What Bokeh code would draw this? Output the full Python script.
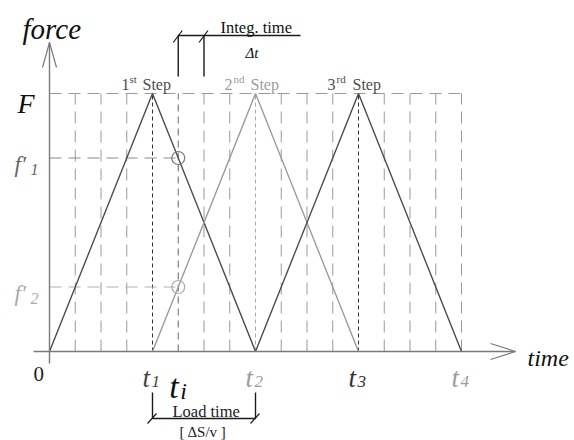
from bokeh.plotting import figure
from bokeh.models import Range1d
from bokeh.core.properties import value
from bokeh.embed import file_html
from bokeh.resources import INLINE

# ---------------- data ----------------
step_names = ["1", "2", "3"]
step_sups = ["st", "nd", "rd"]
step_start = [0, 4, 8]
step_peak = [4, 8, 12]
step_end = [8, 12, 16]
F = 1.0
t_i = 5
dt = 1
f1 = 0.75   # f'1 : 1st step at t_i
f2 = 0.25   # f'2 : 2nd step at t_i
grid_t = list(range(1, 17))
t_pos = [4, 8, 12, 16]
t_subs = ["1", "2", "3", "4"]

# ---------------- layout (pixel mapping) ----------------
PX0, PY0, SX, SY = 49.0, 351.0, 25.75, 258.0
def X(px): return (px - PX0) / SX
def Y(py): return (PY0 - py) / SY
def DX(px): return px / SX
def DY(px): return px / SY

SERIF = value("Liberation Serif")
step_colors = ["#4d4d4d", "#9c9c9c", "#4d4d4d"]
t_colors = ["#444444", "#9c9c9c", "#333333", "#9c9c9c"]

p = figure(width=574, height=440, x_range=Range1d(X(0), X(574)),
           y_range=Range1d(Y(440), Y(0)), output_backend="svg",
           toolbar_location=None, min_border=0,
           x_axis_type=None, y_axis_type=None)
p.outline_line_color = None
p.background_fill_color = "white"
p.border_fill_color = "white"

def txt(x, y, s, size, color="#111111", style="normal", xo=0, yo=0,
        align="left", baseline="alphabetic"):
    p.text(x=[x], y=[y], text=[s], text_font=SERIF,
           text_font_size=f"{size}px", text_color=color,
           text_font_style=style, x_offset=xo, y_offset=yo,
           text_align=align, text_baseline=baseline)

# ---------------- grid ----------------
special = {4: ("#333333", "4 3"), 12: ("#333333", "4 3"),
           8: ("#aaaaaa", "4 3"), t_i: ("#666666", "7 5")}
for t in grid_t:
    col, dash = special.get(t, ("#9a9a9a", "12 7"))
    p.segment(x0=[t], y0=[0], x1=[t], y1=[F], line_color=col,
              line_dash=dash, line_width=1)
p.segment(x0=[0], y0=[F], x1=[grid_t[-1]], y1=[F], line_color="#9a9a9a",
          line_dash="12 7", line_width=1)
p.segment(x0=[0], y0=[f1], x1=[t_i], y1=[f1], line_color="#8a8a8a",
          line_dash="12 7", line_width=1)
p.segment(x0=[0], y0=[f2], x1=[t_i], y1=[f2], line_color="#b0b0b0",
          line_dash="12 7", line_width=1)

# ---------------- triangles ----------------
for s0, pk, s1, c in zip(step_start, step_peak, step_end, step_colors):
    p.line(x=[s0, pk, s1], y=[0, F, 0], line_color=c, line_width=1.4)

p.scatter(x=[t_i, t_i], y=[f1, f2], marker="circle", size=13,
          fill_color=None, line_color=["#777777", "#aaaaaa"], line_width=1.2)

# ---------------- axes ----------------
ax_col = "#7a7a7a"
x_end = X(515)
y_end = Y(42)
p.segment(x0=[X(33)], y0=[0], x1=[x_end], y1=[0], line_color=ax_col, line_width=1.4)
p.segment(x0=[0], y0=[Y(363)], x1=[0], y1=[y_end], line_color=ax_col, line_width=1.4)
p.line(x=[x_end - DX(25), x_end, x_end - DX(25)], y=[DY(8), 0, -DY(8)],
       line_color=ax_col, line_width=1.2)
p.line(x=[-DX(7), 0, DX(7)], y=[y_end - DY(25), y_end, y_end - DY(25)],
       line_color=ax_col, line_width=1.2)

# ---------------- axis labels ----------------
txt(0, y_end, "force", 29, "#111111", "italic", xo=-27, yo=-14)
txt(x_end, 0, "time", 24, "#111111", "italic", xo=12, yo=6)
txt(0, 0, "0", 21, "#222222", xo=-16, yo=22)
txt(0, F, "F", 28, "#111111", "italic", xo=-32, yo=10)
txt(0, f1, "f\u2032", 23, "#666666", "italic", xo=-35, yo=6)
txt(0, f1, "1", 16, "#666666", "italic", xo=-19, yo=11)
txt(0, f2, "f\u2032", 23, "#aaaaaa", "italic", xo=-35, yo=6)
txt(0, f2, "2", 16, "#aaaaaa", "italic", xo=-19, yo=11)

for tp, sub, c in zip(t_pos, t_subs, t_colors):
    txt(tp, 0, "t", 27, c, "italic", xo=-10, yo=26)
    txt(tp, 0, sub, 17, c, "italic", xo=-1, yo=30)
txt(t_i, 0, "t", 34, "#111111", "italic", xo=-9, yo=35)
txt(t_i, 0, "i", 24, "#111111", "italic", xo=2, yo=39)

# ---------------- step labels ----------------
sup_off = [-23, -22, -22]
step_word_off = [-10, -5, -6]
for pk, nm, sp, c, so, wo in zip(step_peak, step_names, step_sups, step_colors,
                                 sup_off, step_word_off):
    txt(pk, F, nm, 16, c, xo=-31, yo=-9)
    txt(pk, F, sp, 11, c, xo=so, yo=-15)
    txt(pk, F, "Step", 16, c, xo=wo, yo=-9)

# ---------------- Integ. time bracket ----------------
bk = "#1a1a1a"
yt, yb = Y(35), Y(76)
for xx in [t_i, t_i + dt]:
    p.segment(x0=[xx], y0=[yb], x1=[xx], y1=[yt], line_color=bk, line_width=1.4)
    p.segment(x0=[xx - DX(5)], y0=[yt - DY(7)], x1=[xx + DX(4)], y1=[yt + DY(5)],
              line_color=bk, line_width=1.2)
p.segment(x0=[t_i], y0=[yt], x1=[X(300)], y1=[yt], line_color=bk, line_width=1.4)
txt(X(220), Y(27), "Integ. time", 16.5, "#111111")
txt(X(245), Y(52), "\u0394t", 15, "#111111", "italic")

# ---------------- Load time bracket ----------------
lt, lb = Y(392), Y(418)
x_a, x_b = step_peak[0], step_end[0]
for xx in [x_a, x_b]:
    p.segment(x0=[xx], y0=[lt], x1=[xx], y1=[lb], line_color=bk, line_width=1.4)
    p.segment(x0=[xx - DX(5)], y0=[lb - DY(5)], x1=[xx + DX(4)], y1=[lb + DY(5)],
              line_color=bk, line_width=1.2)
p.segment(x0=[x_a], y0=[lb], x1=[x_b], y1=[lb], line_color=bk, line_width=1.4)
txt(X(172), Y(411), "Load time", 16.5, "#222222")
txt(X(179), Y(431), "[ \u0394S/v ]", 15, "#222222")

open("out.html", "w").write(file_html(p, INLINE))
